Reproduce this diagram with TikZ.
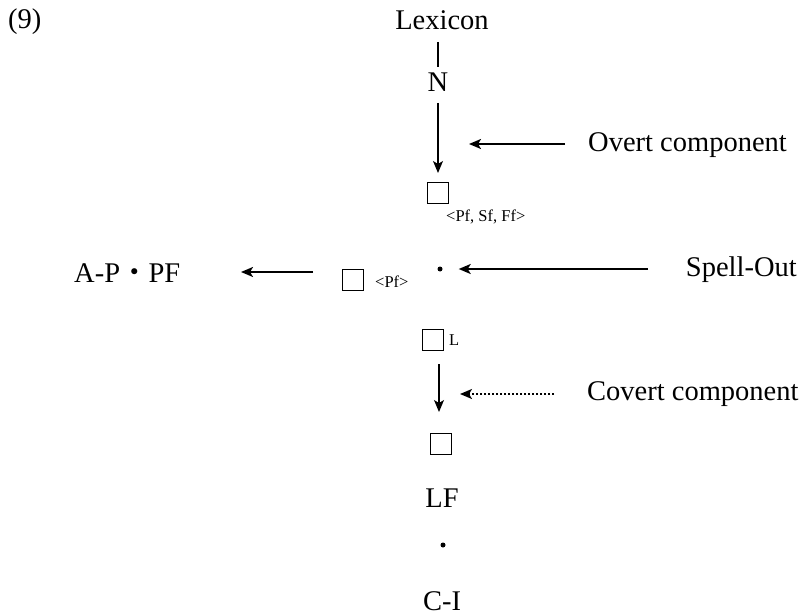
\documentclass[tikz,border=0pt]{standalone}
\usepackage{fontspec}
\setmainfont{Liberation Serif}
\newfontfamily\jpfont{Noto Sans CJK JP}
\usepackage{tikz}
\usetikzlibrary{arrows.meta}
\usetikzlibrary{positioning}

\tikzset{
  big/.style={font=\fontsize{28.5}{34}\selectfont, inner sep=0pt},
  small/.style={font=\fontsize{16.5}{19}\selectfont, inner sep=0pt},
  slot/.style={draw, line width=1pt, minimum size=21pt, inner sep=0pt},
}

\begin{document}
\begin{tikzpicture}[x=1pt, y=-1pt, >={Stealth[length=12pt, width=10pt, inset=3pt]}]
\useasboundingbox (0,0) rectangle (805,615);

%Overt
\node[big, anchor=west] (ex) at (8, 22) {(9)};
\node[big] (lex) at (442, 20) {Lexicon};
\node[big] (n) at (438, 82) {N};
\node[slot] (b1) at (438, 193) {};
\node[small, anchor=west] (pfsfff) at (446, 217) {<Pf, Sf, Ff>};
\coordinate (lexfoot) at (438, 42);
\coordinate (ntop) at (438, 67);
\draw[line width=1.2pt] (lexfoot) -- (ntop);
\coordinate (nfoot) at (438, 103);
\draw[->, line width=1.2pt] (nfoot) -- (b1.north) [shorten >=9pt];

\node[big, anchor=west] (overt) at (588, 145) {Overt component};
\coordinate (ov1) at (565, 144);
\coordinate (ov2) at (469, 144);
\draw[->, line width=2pt] (ov1) -- (ov2);

%Spell-Out
\node[big, anchor=west] (appf) at (74, 273) {A-P{\jpfont ・}PF};
\node[slot] (b2) at (353, 280) {};
\node[small, anchor=west] (pf) at (375, 282) {<Pf>};
\node[circle, fill, inner sep=0pt, minimum size=5pt] (so) at (440, 269) {};
\node[big, anchor=east] (spell) at (797, 270) {Spell-Out};
\coordinate (ap1) at (313, 272);
\coordinate (ap2) at (241, 272);
\draw[->, line width=2pt] (ap1) -- (ap2);
\coordinate (sp1) at (648, 269);
\draw[->, line width=2pt] (sp1) -- (so) [shorten >=16pt];

%Covert
\node[slot] (b3) at (433, 340) {};
\node[small, anchor=west] (l) at (449, 340) {L};
\node[slot] (b4) at (441, 444) {};
\coordinate (cvtop) at (439, 364);
\coordinate (cvfoot) at (439, 412);
\draw[->, line width=1.2pt] (cvtop) -- (cvfoot);
\node[big, anchor=west] (covert) at (587, 394) {Covert component};
\coordinate (cv1) at (554, 394);
\coordinate (cv2) at (460, 394);
\draw[->, dotted, line width=2pt] (cv1) -- (cv2);

\node[big] (lf) at (442, 498) {LF};
\node[circle, fill, inner sep=0pt, minimum size=5pt] (dot) at (443, 545) {};
\node[big] (ci) at (442, 601) {C-I};
\end{tikzpicture}
\end{document}
